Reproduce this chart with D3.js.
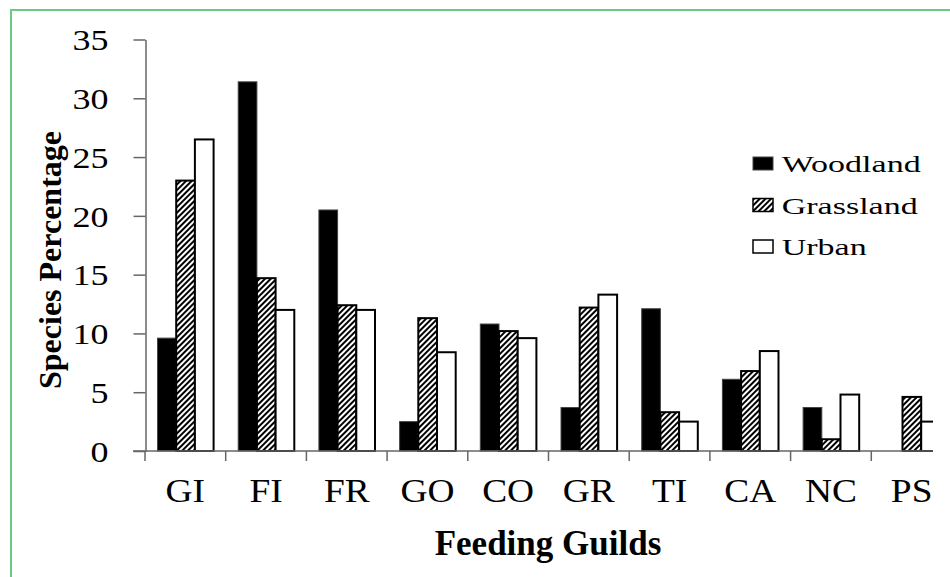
<!DOCTYPE html>
<html><head><meta charset="utf-8">
<script src="https://cdn.jsdelivr.net/npm/d3@7"></script>
<style>body{margin:0;background:#fff} svg{display:block} svg text{font-family:"Liberation Serif","Times New Roman",Times,"DejaVu Serif",serif;}</style>
</head><body>
<svg id="chart" width="950" height="577"></svg>
<script>
const categories = ["GI","FI","FR","GO","CO","GR","TI","CA","NC","PS"];
const seriesNames = ["Woodland","Grassland","Urban"];
const woodland  = [9.6, 31.4, 20.5, 2.5, 10.8, 3.7, 12.1, 6.1, 3.7, 0];
const grassland = [23.0, 14.7, 12.4, 11.3, 10.2, 12.2, 3.3, 6.8, 1.0, 4.6];
const urban     = [26.5, 12.0, 12.0, 8.4, 9.6, 13.3, 2.5, 8.5, 4.8, 2.5];
const yTicks = [0, 5, 10, 15, 20, 25, 30, 35];
const xTitle = "Feeding Guilds";
const yTitle = "Species Percentage";

const seriesValues = {Woodland: woodland, Grassland: grassland, Urban: urban};
const data = categories.map((c, i) => ({cat: c, vals: seriesNames.map(s => ({s, v: seriesValues[s][i]}))}));

const svg = d3.select("#chart");

const defs = svg.append("defs");
const pat = defs.append("pattern").attr("id", "hatch")
  .attr("patternUnits", "userSpaceOnUse").attr("width", 4).attr("height", 4)
  .attr("patternTransform", "rotate(45)");
pat.append("rect").attr("width", 4).attr("height", 4).attr("fill", "#fff");
pat.append("line").attr("x1", 1).attr("y1", 0).attr("x2", 1).attr("y2", 4)
  .attr("stroke", "#000").attr("stroke-width", 2);
defs.append("clipPath").attr("id", "clip").append("rect")
  .attr("x", 0).attr("y", 0).attr("width", 933).attr("height", 577);

// frame
svg.append("path").attr("d", "M11,577V10H950").attr("fill", "none")
  .attr("stroke", "#66cc80").attr("stroke-width", 2);

const x0 = d3.scaleBand().domain(categories).range([145, 952]).padding(0);
const bw = x0.bandwidth();
const x1 = d3.scaleBand().domain(seriesNames).range([bw * 0.155, bw * 0.85]).padding(0);
const y = d3.scaleLinear().domain([0, 35]).range([451, 39.5]);

const fills = {Woodland: "#000", Grassland: "url(#hatch)", Urban: "#fff"};
const strokes = {Woodland: "#444", Grassland: "#000", Urban: "#000"};
const sw = {Woodland: 1, Grassland: 2, Urban: 2};

const plot = svg.append("g").attr("clip-path", "url(#clip)");

// bars
const groups = plot.selectAll("g.grp").data(data).join("g").attr("class", "grp")
  .attr("transform", d => `translate(${x0(d.cat)},0)`);
groups.selectAll("rect").data(d => d.vals.filter(e => e.v > 0)).join("rect")
  .attr("x", d => x1(d.s)).attr("width", x1.bandwidth())
  .attr("y", d => y(d.v)).attr("height", d => y(0) - y(d.v))
  .attr("fill", d => fills[d.s]).attr("stroke", d => strokes[d.s])
  .attr("stroke-width", d => sw[d.s]);

// x axis line + boundary ticks
const axisColor = "#666";
plot.append("line").attr("x1", 133).attr("x2", 952).attr("y1", y(0)).attr("y2", y(0))
  .attr("stroke", axisColor).attr("stroke-width", 1.5);
const bounds = categories.map(c => x0(c)).concat([x0.range()[1]]);
plot.selectAll("line.bt").data(bounds).join("line").attr("class", "bt")
  .attr("x1", d => d).attr("x2", d => d).attr("y1", y(0)).attr("y2", y(0) + 10)
  .attr("stroke", axisColor).attr("stroke-width", 1.5);

// category labels
const catSX = 1.1;
plot.selectAll("text.cat").data(categories).join("text").attr("class", "cat")
  .attr("transform", d => `translate(${x0(d) + bw / 2},502) scale(${catSX},1)`)
  .attr("text-anchor", "middle").attr("font-size", 34)
  .attr("fill", "#000").text(d => d);

// y axis
const tickSX = 1.2;
const yAxis = svg.append("g").attr("transform", "translate(145.5,0)")
  .call(d3.axisLeft(y).tickValues(yTicks).tickSize(12).tickSizeOuter(0));
yAxis.attr("font-family", null);
yAxis.select(".domain").attr("stroke", axisColor).attr("stroke-width", 1.5);
yAxis.selectAll(".tick line").attr("stroke", axisColor).attr("stroke-width", 1.5);
yAxis.selectAll(".tick text")
  .attr("x", -37 / tickSX).attr("dy", "0.34em")
  .attr("transform", `scale(${tickSX},1)`)
  .attr("font-size", 30).attr("fill", "#000");

// axis titles
svg.append("text").attr("transform", "translate(61,260) rotate(-90)")
  .attr("text-anchor", "middle").attr("font-weight", "bold")
  .attr("font-size", 32).attr("fill", "#000").text(yTitle);
svg.append("text").attr("x", 548).attr("y", 555)
  .attr("text-anchor", "middle").attr("font-weight", "bold")
  .attr("font-size", 35).attr("fill", "#000").text(xTitle);

// legend
const legSX = 1.48;
const leg = svg.append("g").selectAll("g").data(seriesNames).join("g")
  .attr("transform", (d, i) => `translate(753,${157 + i * 41.5})`);
leg.append("rect").attr("x", 0).attr("y", 0).attr("width", 20).attr("height", 13)
  .attr("fill", d => fills[d]).attr("stroke", d => strokes[d])
  .attr("stroke-width", d => d === "Woodland" ? 1 : 1.5);
leg.append("text").attr("transform", `translate(28.7,15) scale(${legSX},1)`)
  .attr("font-size", 23).attr("fill", "#000").text(d => d);
</script>
</body></html>
